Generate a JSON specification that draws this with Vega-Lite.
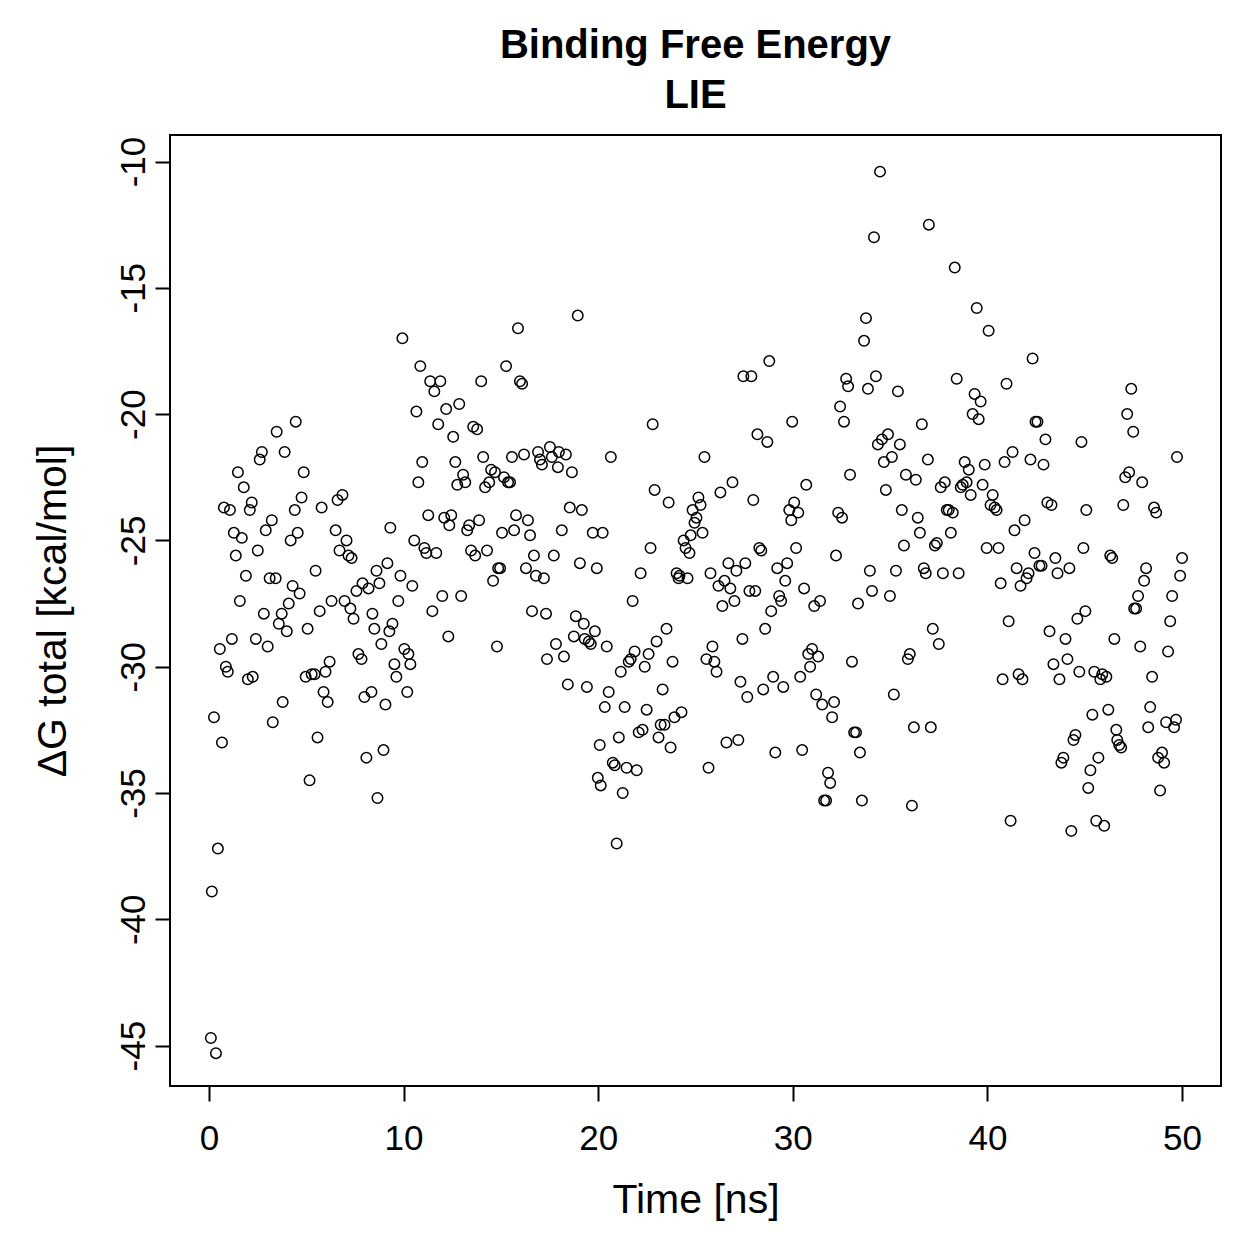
{
  "$schema": "https://vega.github.io/schema/vega-lite/v6.json",
  "autosize": {"type": "none"},
  "padding": {"left": 170, "top": 135, "right": 38, "bottom": 173},
  "width": 1051,
  "height": 951,
  "background": "white",
  "config": {
    "font": "Liberation Sans",
    "view": {"stroke": "black", "strokeWidth": 2},
    "axis": {"grid": false, "domain": false, "tickColor": "black", "tickWidth": 2, "tickSize": 15, "labelColor": "black", "titleColor": "black", "labelFont": "Liberation Sans", "titleFont": "Liberation Sans", "labelFontSize": 35, "titleFontSize": 41, "titleFontWeight": "normal"}
  },
  "title": {"text": ["Binding Free Energy", "LIE"], "fontSize": 40, "fontWeight": "bold", "font": "Liberation Sans", "anchor": "middle", "lineHeight": 50, "offset": 19, "color": "black"},
  "data": {"values": [
{"t":0.10,"g":-44.7},{"t":0.36,"g":-45.3},{"t":0.15,"g":-38.9},{"t":0.46,"g":-37.2},{"t":0.26,"g":-32.0},{"t":0.67,"g":-33.0},{"t":0.56,"g":-29.3},{"t":0.77,"g":-23.7},{"t":1.08,"g":-23.8},{"t":0.97,"g":-30.2},{"t":0.87,"g":-30.0},{"t":1.18,"g":-28.9},{"t":1.28,"g":-24.7},{"t":1.38,"g":-25.6},{"t":1.49,"g":-22.3},{"t":1.59,"g":-27.4},{"t":1.69,"g":-24.9},{"t":1.79,"g":-22.9},{"t":1.90,"g":-26.4},
{"t":2.00,"g":-30.5},{"t":2.25,"g":-30.4},{"t":2.10,"g":-23.8},{"t":2.20,"g":-23.5},{"t":2.41,"g":-28.9},{"t":2.51,"g":-25.4},{"t":2.61,"g":-21.8},{"t":2.72,"g":-21.5},{"t":2.82,"g":-27.9},{"t":2.92,"g":-24.6},{"t":3.02,"g":-29.2},{"t":3.12,"g":-26.5},{"t":3.23,"g":-24.2},{"t":3.28,"g":-32.2},{"t":3.43,"g":-26.5},{"t":3.48,"g":-20.7},{"t":3.59,"g":-28.3},{"t":3.74,"g":-27.9},{"t":3.79,"g":-31.4},{"t":3.89,"g":-21.5},{"t":4.00,"g":-28.6},{"t":4.10,"g":-27.5},{"t":4.20,"g":-25.0},{"t":4.30,"g":-26.8},{"t":4.41,"g":-23.8},{"t":4.46,"g":-20.3},{"t":4.56,"g":-24.7},{"t":4.66,"g":-27.1},{"t":4.76,"g":-23.3},{"t":4.87,"g":-22.3},
{"t":4.97,"g":-30.4},{"t":5.07,"g":-28.5},{"t":5.17,"g":-34.5},{"t":5.28,"g":-30.3},{"t":5.43,"g":-30.3},{"t":5.48,"g":-26.2},{"t":5.58,"g":-32.8},{"t":5.69,"g":-27.8},{"t":5.79,"g":-23.7},{"t":5.89,"g":-31.0},{"t":5.99,"g":-30.2},{"t":6.10,"g":-31.4},{"t":6.20,"g":-29.8},{"t":6.30,"g":-27.4},{"t":6.51,"g":-24.6},{"t":6.61,"g":-23.4},{"t":6.71,"g":-25.4},{"t":6.86,"g":-23.2},{"t":6.97,"g":-27.4},{"t":7.07,"g":-25.0},{"t":7.17,"g":-25.6},{"t":7.33,"g":-25.7},{"t":7.27,"g":-27.7},{"t":7.43,"g":-28.1},{"t":7.58,"g":-27.0},{"t":7.68,"g":-29.5},{"t":7.84,"g":-29.7},{"t":7.89,"g":-26.7},{"t":7.99,"g":-31.2},{"t":8.09,"g":-33.6},{"t":8.20,"g":-26.9},{"t":8.35,"g":-31.0},{"t":8.40,"g":-27.9},{"t":8.50,"g":-28.5},{"t":8.61,"g":-26.2},{"t":8.66,"g":-35.2},{"t":8.76,"g":-26.7},{"t":8.86,"g":-29.1},{"t":8.97,"g":-33.3},{"t":9.07,"g":-31.5},{"t":9.17,"g":-25.9},{"t":9.27,"g":-28.6},{"t":9.32,"g":-24.5},{"t":9.43,"g":-28.3},{"t":9.53,"g":-29.9},{"t":9.63,"g":-30.4},{"t":9.73,"g":-27.4},{"t":9.84,"g":-26.4},{"t":9.94,"g":-17.0},
{"t":10.04,"g":-29.3},{"t":10.19,"g":-31.0},{"t":10.25,"g":-29.5},{"t":10.35,"g":-29.9},{"t":10.45,"g":-26.8},{"t":10.55,"g":-25.0},{"t":10.66,"g":-19.9},{"t":10.76,"g":-22.7},{"t":10.86,"g":-18.1},{"t":10.96,"g":-21.9},{"t":11.07,"g":-25.3},{"t":11.17,"g":-25.5},{"t":11.27,"g":-24.0},{"t":11.37,"g":-18.7},{"t":11.48,"g":-27.8},{"t":11.58,"g":-19.1},{"t":11.68,"g":-25.5},{"t":11.78,"g":-20.4},{"t":11.89,"g":-18.7},{"t":11.99,"g":-27.2},{"t":12.09,"g":-24.1},{"t":12.19,"g":-19.8},{"t":12.30,"g":-28.8},{"t":12.35,"g":-24.4},{"t":12.45,"g":-24.0},{"t":12.55,"g":-20.9},{"t":12.66,"g":-21.9},{"t":12.76,"g":-22.8},{"t":12.86,"g":-19.6},{"t":12.96,"g":-27.2},{"t":13.06,"g":-22.4},{"t":13.17,"g":-22.7},{"t":13.27,"g":-24.6},{"t":13.37,"g":-24.4},{"t":13.47,"g":-25.4},{"t":13.58,"g":-20.5},{"t":13.68,"g":-25.6},{"t":13.78,"g":-20.6},{"t":13.88,"g":-24.2},{"t":13.99,"g":-18.7},{"t":14.09,"g":-21.7},{"t":14.19,"g":-22.9},{"t":14.29,"g":-25.4},{"t":14.40,"g":-22.7},{"t":14.50,"g":-22.2},{"t":14.60,"g":-26.6},{"t":14.70,"g":-22.3},{"t":14.80,"g":-29.2},{"t":14.86,"g":-26.1},{"t":14.96,"g":-26.1},
{"t":15.06,"g":-24.7},{"t":15.16,"g":-22.5},{"t":15.27,"g":-18.1},{"t":15.37,"g":-22.7},{"t":15.47,"g":-22.7},{"t":15.57,"g":-21.7},{"t":15.68,"g":-24.6},{"t":15.78,"g":-24.0},{"t":15.88,"g":-16.6},{"t":15.98,"g":-18.7},{"t":16.09,"g":-18.8},{"t":16.19,"g":-21.6},{"t":16.29,"g":-26.1},{"t":16.39,"g":-24.2},{"t":16.50,"g":-24.8},{"t":16.60,"g":-27.8},{"t":16.70,"g":-25.6},{"t":16.80,"g":-26.4},{"t":16.91,"g":-21.5},{"t":17.01,"g":-21.8},{"t":17.11,"g":-22.0},{"t":17.21,"g":-26.5},{"t":17.32,"g":-27.9},{"t":17.37,"g":-29.7},{"t":17.52,"g":-21.3},{"t":17.62,"g":-21.7},{"t":17.72,"g":-25.6},{"t":17.83,"g":-29.1},{"t":17.93,"g":-22.1},{"t":17.98,"g":-21.5},{"t":18.13,"g":-24.6},{"t":18.24,"g":-29.6},{"t":18.34,"g":-21.6},{"t":18.44,"g":-30.7},{"t":18.54,"g":-23.7},{"t":18.65,"g":-22.3},{"t":18.75,"g":-28.8},{"t":18.85,"g":-28.0},{"t":18.95,"g":-16.1},{"t":19.06,"g":-25.9},{"t":19.16,"g":-23.8},{"t":19.26,"g":-28.3},{"t":19.31,"g":-28.9},{"t":19.42,"g":-30.8},{"t":19.52,"g":-29.0},{"t":19.62,"g":-29.1},{"t":19.72,"g":-24.7},{"t":19.83,"g":-28.6},{"t":19.93,"g":-26.1},{"t":19.98,"g":-34.4},
{"t":20.08,"g":-33.1},{"t":20.13,"g":-34.7},{"t":20.23,"g":-24.7},{"t":20.34,"g":-31.6},{"t":20.44,"g":-29.2},{"t":20.54,"g":-31.0},{"t":20.65,"g":-21.7},{"t":20.75,"g":-33.8},{"t":20.85,"g":-33.9},{"t":20.95,"g":-37.0},{"t":21.06,"g":-32.8},{"t":21.16,"g":-30.2},{"t":21.26,"g":-35.0},{"t":21.36,"g":-31.6},{"t":21.46,"g":-34.0},{"t":21.57,"g":-29.8},{"t":21.67,"g":-29.7},{"t":21.77,"g":-27.4},{"t":21.87,"g":-29.4},{"t":21.98,"g":-34.1},{"t":22.08,"g":-32.6},{"t":22.18,"g":-26.3},{"t":22.28,"g":-32.5},{"t":22.39,"g":-30.0},{"t":22.49,"g":-31.7},{"t":22.59,"g":-29.5},{"t":22.69,"g":-25.3},{"t":22.80,"g":-20.4},{"t":22.90,"g":-23.0},{"t":23.00,"g":-29.0},{"t":23.10,"g":-32.8},{"t":23.21,"g":-32.3},{"t":23.31,"g":-30.9},{"t":23.41,"g":-32.3},{"t":23.51,"g":-28.5},{"t":23.62,"g":-23.5},{"t":23.72,"g":-33.2},{"t":23.82,"g":-29.8},{"t":23.92,"g":-32.0},{"t":24.03,"g":-26.3},{"t":24.13,"g":-26.5},{"t":24.18,"g":-26.4},{"t":24.28,"g":-31.8},{"t":24.39,"g":-25.0},{"t":24.49,"g":-25.3},{"t":24.59,"g":-26.5},{"t":24.69,"g":-25.5},{"t":24.75,"g":-24.8},{"t":24.85,"g":-23.8},{"t":24.95,"g":-24.3},
{"t":25.05,"g":-24.1},{"t":25.15,"g":-23.3},{"t":25.26,"g":-23.6},{"t":25.36,"g":-24.7},{"t":25.46,"g":-21.7},{"t":25.56,"g":-29.7},{"t":25.67,"g":-34.0},{"t":25.77,"g":-26.3},{"t":25.87,"g":-29.2},{"t":25.97,"g":-29.8},{"t":26.08,"g":-30.2},{"t":26.18,"g":-26.8},{"t":26.28,"g":-23.1},{"t":26.38,"g":-27.6},{"t":26.49,"g":-26.6},{"t":26.59,"g":-33.0},{"t":26.69,"g":-25.9},{"t":26.79,"g":-26.9},{"t":26.90,"g":-22.7},{"t":27.00,"g":-27.4},{"t":27.10,"g":-26.2},{"t":27.20,"g":-32.9},{"t":27.31,"g":-30.6},{"t":27.41,"g":-28.9},{"t":27.46,"g":-18.5},{"t":27.56,"g":-25.9},{"t":27.66,"g":-31.2},{"t":27.77,"g":-27.0},{"t":27.87,"g":-18.5},{"t":27.97,"g":-23.4},{"t":28.07,"g":-27.0},{"t":28.18,"g":-20.8},{"t":28.28,"g":-25.3},{"t":28.38,"g":-25.4},{"t":28.48,"g":-30.9},{"t":28.58,"g":-28.5},{"t":28.69,"g":-21.1},{"t":28.79,"g":-17.9},{"t":28.89,"g":-27.8},{"t":28.99,"g":-30.4},{"t":29.10,"g":-33.4},{"t":29.20,"g":-26.1},{"t":29.30,"g":-27.2},{"t":29.40,"g":-27.4},{"t":29.51,"g":-30.8},{"t":29.61,"g":-26.6},{"t":29.71,"g":-25.9},{"t":29.82,"g":-23.8},{"t":29.92,"g":-24.2},{"t":29.97,"g":-20.3},
{"t":30.07,"g":-23.5},{"t":30.17,"g":-25.3},{"t":30.28,"g":-23.9},{"t":30.38,"g":-30.4},{"t":30.48,"g":-33.3},{"t":30.58,"g":-26.9},{"t":30.69,"g":-22.8},{"t":30.79,"g":-29.5},{"t":30.89,"g":-30.0},{"t":30.99,"g":-29.3},{"t":31.10,"g":-27.6},{"t":31.20,"g":-31.1},{"t":31.30,"g":-29.6},{"t":31.40,"g":-27.4},{"t":31.51,"g":-31.5},{"t":31.61,"g":-35.3},{"t":31.71,"g":-35.3},{"t":31.81,"g":-34.2},{"t":31.92,"g":-34.6},{"t":32.02,"g":-32.0},{"t":32.12,"g":-31.4},{"t":32.22,"g":-25.6},{"t":32.33,"g":-23.9},{"t":32.43,"g":-19.7},{"t":32.53,"g":-24.1},{"t":32.63,"g":-20.3},{"t":32.74,"g":-18.6},{"t":32.84,"g":-18.9},{"t":32.94,"g":-22.4},{"t":33.04,"g":-29.8},{"t":33.15,"g":-32.6},{"t":33.25,"g":-32.6},{"t":33.35,"g":-27.5},{"t":33.45,"g":-33.4},{"t":33.55,"g":-35.3},{"t":33.66,"g":-17.1},{"t":33.76,"g":-16.2},{"t":33.86,"g":-19.0},{"t":33.96,"g":-26.2},{"t":34.07,"g":-27.0},{"t":34.17,"g":-13.0},{"t":34.27,"g":-18.5},{"t":34.37,"g":-21.2},{"t":34.48,"g":-10.4},{"t":34.58,"g":-21.0},{"t":34.68,"g":-21.9},{"t":34.78,"g":-23.0},{"t":34.89,"g":-20.8},{"t":34.99,"g":-27.2},
{"t":35.09,"g":-21.7},{"t":35.19,"g":-31.1},{"t":35.30,"g":-26.2},{"t":35.40,"g":-19.1},{"t":35.50,"g":-21.2},{"t":35.60,"g":-23.8},{"t":35.71,"g":-25.2},{"t":35.81,"g":-22.4},{"t":35.91,"g":-29.7},{"t":36.01,"g":-29.5},{"t":36.12,"g":-35.5},{"t":36.22,"g":-32.4},{"t":36.32,"g":-22.6},{"t":36.42,"g":-24.1},{"t":36.53,"g":-24.7},{"t":36.63,"g":-20.4},{"t":36.73,"g":-26.1},{"t":36.83,"g":-26.3},{"t":36.94,"g":-21.8},{"t":36.99,"g":-12.5},{"t":37.09,"g":-32.4},{"t":37.19,"g":-28.5},{"t":37.30,"g":-25.2},{"t":37.40,"g":-25.1},{"t":37.50,"g":-29.1},{"t":37.60,"g":-22.9},{"t":37.71,"g":-26.3},{"t":37.81,"g":-22.7},{"t":37.91,"g":-23.8},{"t":38.01,"g":-23.8},{"t":38.12,"g":-24.7},{"t":38.22,"g":-23.9},{"t":38.32,"g":-14.2},{"t":38.42,"g":-18.6},{"t":38.52,"g":-26.3},{"t":38.63,"g":-22.9},{"t":38.73,"g":-22.8},{"t":38.83,"g":-21.9},{"t":38.93,"g":-22.7},{"t":39.04,"g":-22.2},{"t":39.14,"g":-23.2},{"t":39.24,"g":-20.0},{"t":39.34,"g":-19.2},{"t":39.45,"g":-15.8},{"t":39.55,"g":-20.2},{"t":39.65,"g":-19.5},{"t":39.75,"g":-22.8},{"t":39.86,"g":-22.0},{"t":39.96,"g":-25.3},
{"t":40.06,"g":-16.7},{"t":40.16,"g":-23.6},{"t":40.27,"g":-23.2},{"t":40.37,"g":-23.7},{"t":40.47,"g":-23.8},{"t":40.57,"g":-25.3},{"t":40.68,"g":-26.7},{"t":40.78,"g":-30.5},{"t":40.88,"g":-21.9},{"t":40.98,"g":-18.8},{"t":41.09,"g":-28.2},{"t":41.19,"g":-36.1},{"t":41.29,"g":-21.5},{"t":41.39,"g":-24.6},{"t":41.50,"g":-26.1},{"t":41.60,"g":-30.3},{"t":41.70,"g":-26.8},{"t":41.80,"g":-30.5},{"t":41.91,"g":-24.2},{"t":42.01,"g":-26.5},{"t":42.11,"g":-26.3},{"t":42.21,"g":-21.8},{"t":42.32,"g":-17.8},{"t":42.42,"g":-25.5},{"t":42.47,"g":-20.3},{"t":42.57,"g":-20.3},{"t":42.67,"g":-26.0},{"t":42.78,"g":-26.0},{"t":42.88,"g":-22.0},{"t":42.98,"g":-21.0},{"t":43.08,"g":-23.5},{"t":43.19,"g":-28.6},{"t":43.29,"g":-23.6},{"t":43.39,"g":-29.9},{"t":43.49,"g":-25.7},{"t":43.60,"g":-26.3},{"t":43.70,"g":-30.5},{"t":43.80,"g":-33.8},{"t":43.90,"g":-33.6},{"t":44.01,"g":-28.9},{"t":44.11,"g":-29.7},{"t":44.21,"g":-26.1},{"t":44.31,"g":-36.5},{"t":44.42,"g":-32.9},{"t":44.52,"g":-32.7},{"t":44.62,"g":-28.1},{"t":44.72,"g":-30.2},{"t":44.83,"g":-21.1},{"t":44.93,"g":-25.3},{"t":45.03,"g":-27.8},
{"t":45.08,"g":-23.8},{"t":45.18,"g":-34.8},{"t":45.29,"g":-34.1},{"t":45.39,"g":-31.9},{"t":45.49,"g":-30.2},{"t":45.59,"g":-36.1},{"t":45.70,"g":-33.6},{"t":45.80,"g":-30.5},{"t":45.90,"g":-30.3},{"t":46.00,"g":-36.3},{"t":46.11,"g":-30.4},{"t":46.21,"g":-31.7},{"t":46.31,"g":-25.6},{"t":46.41,"g":-25.7},{"t":46.52,"g":-28.9},{"t":46.62,"g":-32.5},{"t":46.67,"g":-32.9},{"t":46.77,"g":-33.1},{"t":46.87,"g":-33.2},{"t":46.98,"g":-23.6},{"t":47.08,"g":-22.5},{"t":47.18,"g":-20.0},{"t":47.28,"g":-22.3},{"t":47.39,"g":-19.0},{"t":47.49,"g":-20.7},{"t":47.54,"g":-27.7},{"t":47.64,"g":-27.7},{"t":47.74,"g":-27.2},{"t":47.85,"g":-29.2},{"t":47.95,"g":-22.7},{"t":48.05,"g":-26.6},{"t":48.15,"g":-26.1},{"t":48.26,"g":-32.4},{"t":48.36,"g":-31.6},{"t":48.46,"g":-30.4},{"t":48.56,"g":-23.7},{"t":48.67,"g":-23.9},{"t":48.77,"g":-33.6},{"t":48.87,"g":-34.9},{"t":48.97,"g":-33.4},{"t":49.08,"g":-33.8},{"t":49.18,"g":-32.2},{"t":49.28,"g":-29.4},{"t":49.39,"g":-28.2},{"t":49.49,"g":-27.2},{"t":49.59,"g":-32.4},{"t":49.69,"g":-32.1},{"t":49.74,"g":-21.7},{"t":49.90,"g":-26.4},{"t":50.00,"g":-25.7}
  ]},
  "mark": {"type": "point", "shape": "circle", "filled": false, "stroke": "black", "strokeWidth": 1.5, "size": 110, "opacity": 1},
  "encoding": {
    "x": {"field": "t", "type": "quantitative", "scale": {"domain": [-2, 52], "nice": false, "zero": false},
      "axis": {"values": [0, 10, 20, 30, 40, 50], "title": "Time [ns]", "labelPadding": 20, "titlePadding": 24, "labelAngle": 0, "labelExpr": "datum.value + ''"}},
    "y": {"field": "g", "type": "quantitative", "scale": {"domain": [-46.6, -8.95], "nice": false, "zero": false},
      "axis": {"values": [-10, -15, -20, -25, -30, -35, -40, -45], "title": "ΔG total [kcal/mol]", "labelAngle": -90, "labelAlign": "center", "labelBaseline": "bottom", "labelPadding": 4, "titlePadding": 42, "labelExpr": "datum.value + ''"}}
  }
}
